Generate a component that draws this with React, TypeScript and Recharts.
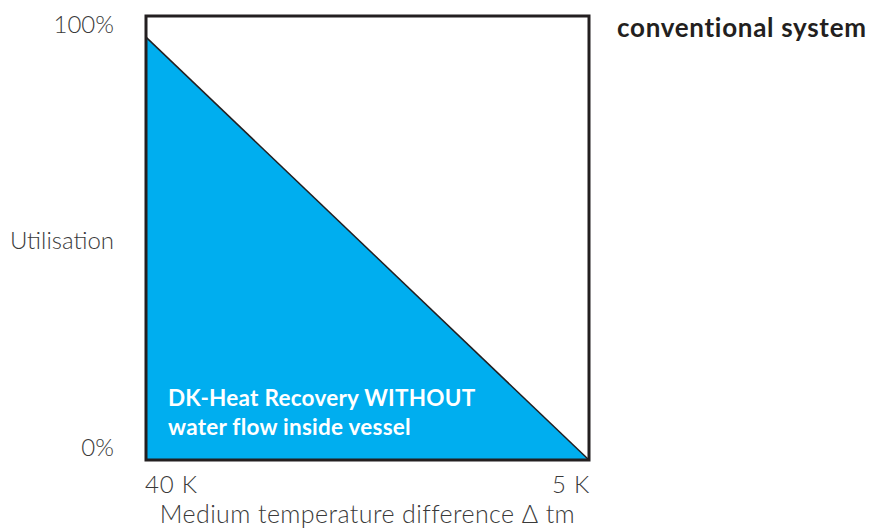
import { AreaChart, Area, XAxis, YAxis, ReferenceArea, Label } from "recharts";

const positions = [0, 1];
const utilisation = [100, 0];
const xTickLabels = ["40 K", "5 K"];
const yTicks = [3, 52, 103];
const yTickLabels = ["0%", "Utilisation", "100%"];

const data = positions.map((p, i) => ({ pos: p, value: utilisation[i] }));

const textColor = "#3a3a3a";
const lightFont = "Lato, 'Noto Sans', sans-serif";

function YTick(props: any) {
  const { x, y, payload } = props;
  const idx = yTicks.indexOf(payload.value);
  return (
    <text
      x={x - 30}
      y={y}
      dy="0.36em"
      textAnchor="end"
      fill={textColor}
      fontFamily={lightFont}
      fontWeight={300}
      fontSize={24}
    >
      {yTickLabels[idx]}
    </text>
  );
}

function XTick(props: any) {
  const { x, y, payload } = props;
  const idx = positions.indexOf(payload.value);
  return (
    <text
      x={idx === 0 ? x - 1 : x + 1}
      y={y + 22}
      dy="0.36em"
      textAnchor={idx === 0 ? "start" : "end"}
      fill={textColor}
      fontFamily={lightFont}
      fontWeight={300}
      fontSize={24}
      letterSpacing={0.8}
    >
      {xTickLabels[idx]}
    </text>
  );
}

export default function App() {
  return (
    <div style={{ position: "relative", width: 871, height: 529, background: "#fff" }}>
      <style>{`body{margin:0}`}</style>
      <AreaChart
        width={871}
        height={529}
        data={data}
        margin={{ top: 16, right: 282, left: 0, bottom: 0 }}
      >
        <XAxis
          dataKey="pos"
          type="number"
          domain={[0, 1]}
          ticks={positions}
          tick={<XTick />}
          tickLine={false}
          axisLine={false}
          tickSize={0}
          height={69}
          interval={0}
        >
          <Label
            value="Medium temperature difference Δ tm"
            position="insideBottom"
            offset={6}
            fill={textColor}
            fontFamily={lightFont}
            fontWeight={300}
            fontSize={25}
            letterSpacing={0.4}
          />
        </XAxis>
        <YAxis
          type="number"
          domain={[0, 105]}
          ticks={yTicks}
          tick={<YTick />}
          tickLine={false}
          axisLine={false}
          tickSize={0}
          width={146}
          interval={0}
        />
        <Area
          type="linear"
          dataKey="value"
          stroke="#231f20"
          strokeWidth={1.5}
          fill="#00aeef"
          fillOpacity={1}
          isAnimationActive={false}
          dot={false}
          activeDot={false}
        />
        <ReferenceArea
          x1={0}
          x2={1}
          y1={0}
          y2={105}
          fill="none"
          stroke="#231f20"
          strokeWidth={3}
          ifOverflow="visible"
        />
      </AreaChart>
      <div
        style={{
          position: "absolute",
          left: 617,
          top: 11,
          fontFamily: "Lato, sans-serif",
          fontWeight: 700,
          fontSize: 26,
          letterSpacing: 0.7,
          color: "#231f20",
          whiteSpace: "nowrap",
        }}
      >
        conventional system
      </div>
      <div
        style={{
          position: "absolute",
          left: 168,
          top: 383,
          fontFamily: "Lato, sans-serif",
          fontWeight: 700,
          fontSize: 22.5,
          letterSpacing: 0.25,
          lineHeight: "29px",
          color: "#fff",
          whiteSpace: "nowrap",
        }}
      >
        DK-Heat Recovery WITHOUT
        <br />
        water flow inside vessel
      </div>
    </div>
  );
}
